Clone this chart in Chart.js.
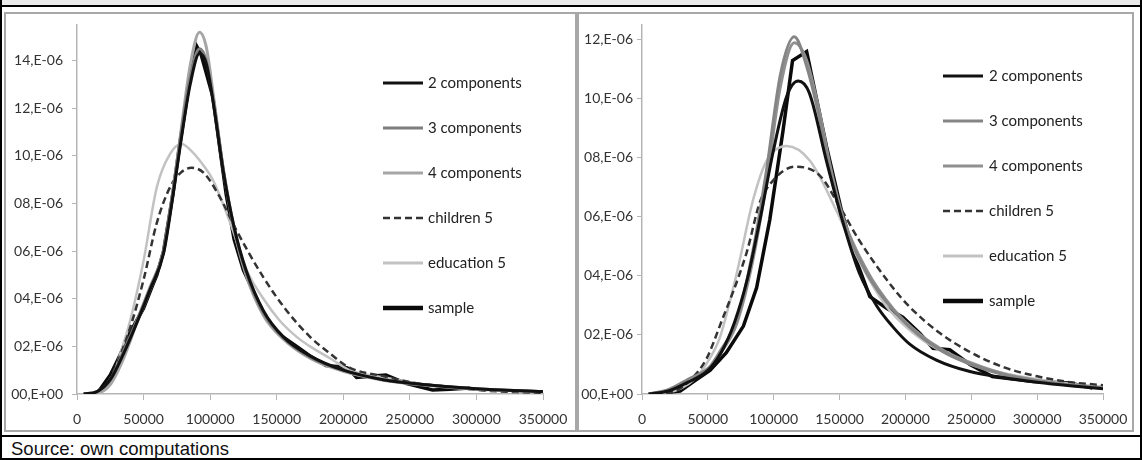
<!DOCTYPE html>
<html><head><meta charset="utf-8">
<script src="https://cdn.jsdelivr.net/npm/chart.js@4.4.1/dist/chart.umd.min.js"></script>
<style>
html,body{margin:0;padding:0;background:#fff;}
#wrap{position:relative;width:1142px;height:460px;overflow:hidden;background:#fff;}
.abs{position:absolute;}
#src{position:absolute;left:11px;top:438px;font-family:'Liberation Sans',Arial,sans-serif;font-size:18.5px;color:#111;line-height:22px;}
</style></head><body>
<div id="wrap">
  <div class="abs" style="left:0;top:0;width:1142px;height:5px;background:#ebebeb"></div>
  <div class="abs" style="left:0;top:5px;width:1142px;height:2px;background:#000"></div>
  <div class="abs" style="left:0;top:435px;width:1142px;height:2px;background:#000"></div>
  <div class="abs" style="left:0;top:458px;width:1142px;height:2px;background:#000"></div>
  <div class="abs" style="left:0;top:0;width:2px;height:460px;background:#000"></div>
  <div class="abs" style="left:1140px;top:0;width:2px;height:460px;background:#000"></div>
  <div class="abs" style="left:4px;top:12px;width:569px;height:416px;border:2px solid #a8a8a8"></div>
  <div class="abs" style="left:577px;top:12px;width:553px;height:416px;border:2px solid #a8a8a8"></div>
  <div class="abs" style="left:6px;top:14px;width:570px;height:417px"><canvas id="c1" width="570" height="417"></canvas></div>
  <div class="abs" style="left:579px;top:14px;width:554px;height:417px"><canvas id="c2" width="554" height="417"></canvas></div>
  <div id="src">Source: own computations</div>
</div>
<script>
// ---------- data (density values in units of 1E-06) ----------
const seriesLabels = ['2 components','3 components','4 components','children 5','education 5','sample'];
const xTickValues = [0,50000,100000,150000,200000,250000,300000,350000];

// Left panel
const L_x_comp = [5000,15000,25000,35000,45000,55000,65000,72000,78000,85000,92000,97000,103000,110000,118000,127000,140000,155000,175000,200000,230000,260000,300000,350000];
const L_comp2 = [0,0.1,0.6,1.7,3.0,4.4,5.9,8.3,10.6,13.0,14.3,13.9,12.0,9.3,7.0,5.2,3.5,2.4,1.6,1.0,0.6,0.4,0.22,0.1];
const L_comp3 = [0,0.1,0.6,1.8,3.1,4.5,6.0,8.5,10.9,13.3,14.5,14.0,12.1,9.4,7.0,5.1,3.4,2.35,1.55,1.0,0.6,0.4,0.22,0.1];
const L_comp4 = [0,0.05,0.4,1.5,3.0,4.4,6.0,8.5,11.0,13.8,15.2,14.6,12.3,9.4,6.9,5.0,3.3,2.3,1.5,0.95,0.58,0.38,0.2,0.1];
const L_x_child = [10000,20000,27000,40000,50000,60000,70000,78000,86000,95000,107000,120000,140000,157500,175000,190000,205000,230000,255000,280000,305000,330000,350000];
const L_child = [0,0.25,0.9,2.8,4.8,7.2,8.7,9.3,9.5,9.3,8.3,6.85,4.9,3.5,2.4,1.7,1.1,0.75,0.45,0.3,0.15,0.08,0.05];
const L_x_edu = [15000,22000,27000,32000,40000,50000,60000,70000,78600,86000,95000,102000,115000,127500,140000,152000,165000,175000,190000,205000,230000,255000,280000,310000,350000];
const L_edu = [0,0.2,0.7,1.6,3.1,5.6,8.7,10.1,10.5,10.2,9.6,9.0,7.2,5.2,4.0,3.1,2.4,2.0,1.5,1.0,0.7,0.45,0.3,0.2,0.1];
const L_x_sample = [17000,25000,32000,40000,50000,57000,60000,65000,72000,77000,85000,90000,93000,102000,112000,118000,125000,135000,142000,152000,165000,175000,187000,197000,203000,210000,232000,247000,267000,280000,295000];
const L_sample = [0.17,0.8,1.6,2.6,3.6,4.6,5.0,6.0,8.4,10.4,13.3,14.6,14.3,12.5,8.4,6.5,5.2,4.0,3.2,2.5,2.0,1.6,1.2,1.15,1.1,0.7,0.8,0.45,0.17,0.2,0.25];

// Right panel
const R_x_comp2 = [5000,20000,35000,50000,60000,70000,80000,90000,100000,110000,118600,127000,140000,152000,165000,178000,190000,203000,223500,249000,275000,300000,325000,350000];
const R_comp2 = [0,0.1,0.4,0.8,1.4,2.4,3.9,6.0,8.3,10.1,10.6,10.2,7.9,5.9,4.1,3.0,2.3,1.7,1.15,0.76,0.55,0.4,0.28,0.18];
const R_x_comp34 = [5000,20000,35000,51600,60000,72000,84000,94600,105000,115600,125000,135000,143000,152500,170500,190500,210000,230000,250000,275000,300000,325000,350000];
const R_comp3 = [0,0.15,0.5,0.93,1.5,2.5,4.8,7.6,10.8,12.1,11.1,9.3,7.5,5.9,4.1,2.85,2.0,1.4,1.0,0.65,0.45,0.3,0.2];
const R_comp4 = [0,0.12,0.45,0.9,1.4,2.4,4.5,7.2,10.4,11.9,11.3,9.5,7.7,6.0,4.2,2.9,2.05,1.45,1.05,0.68,0.46,0.31,0.2];
const R_x_child = [10000,25000,35000,49000,59000,79500,89500,97000,116000,135000,150000,165000,190500,203000,225000,250000,275000,300000,325000,350000];
const R_child = [0,0.1,0.4,1.2,2.3,4.8,6.5,7.1,7.7,7.4,6.35,5.2,3.6,2.96,2.1,1.4,0.9,0.6,0.4,0.3];
const R_x_edu = [10000,20000,30000,39000,50000,59000,72000,84500,94600,109800,127500,147700,165000,185000,205000,225000,250000,275000,300000,325000,350000];
const R_edu = [0,0.05,0.2,0.47,1.1,1.9,4.1,6.6,7.9,8.4,7.9,6.2,4.5,3.0,2.1,1.5,1.0,0.7,0.5,0.35,0.25];
const R_x_sample = [17500,29000,40000,51600,64000,77000,87000,97000,107000,114300,125000,140000,151500,162000,173000,186000,198000,211000,221000,233600,249000,266000,297000,325000,342000];
const R_sample = [0.05,0.1,0.45,0.8,1.4,2.3,3.6,5.9,8.9,11.3,11.6,8.4,6.2,4.6,3.3,2.9,2.6,2.05,1.55,1.5,1.0,0.59,0.42,0.37,0.2];

// ---------- helpers ----------
function pts(xs, ys){ return xs.map((x,i)=>({x:x, y:ys[i]})); }
function yLabel(v){ return v===0 ? '00,E+00' : String(v).padStart(2,'0') + ',E-06'; }

const sideLegend = {
  id:'sideLegend',
  afterDraw(chart, args, o){
    const ctx = chart.ctx;
    chart.data.datasets.forEach((ds,i)=>{
      const y = o.y0 + i*o.dy;
      ctx.save();
      ctx.strokeStyle = ds.borderColor;
      ctx.lineWidth = ds.legendWidth || ds.borderWidth;
      ctx.setLineDash(ds.borderDash || []);
      ctx.beginPath(); ctx.moveTo(o.x0, y); ctx.lineTo(o.x1, y); ctx.stroke();
      ctx.setLineDash([]);
      ctx.fillStyle = '#222';
      ctx.font = '15px Lato';
      ctx.textBaseline = 'middle';
      ctx.textAlign = 'left';
      ctx.fillText(ds.label, o.x1 + o.gap, y);
      ctx.restore();
    });
  }
};

function makeChart(id, series, cfg){
  const styles = [
    {c:'#111111', w:3,   lw:3},
    {c:cfg.c3,    w:3,   lw:3},
    {c:cfg.c4,    w:3,   lw:3},
    {c:'#333333', w:2.5, lw:2.5, dash:[7,4]},
    {c:'#c2c2c2', w:2.5, lw:3},
    {c:'#0a0a0a', w:3.5, lw:4.5, straight:true}
  ];
  const datasets = series.map((s,i)=>({
    label: seriesLabels[i],
    data: pts(s[0], s[1]),
    borderColor: styles[i].c,
    borderWidth: styles[i].w,
    legendWidth: styles[i].lw,
    borderDash: styles[i].dash || [],
    pointRadius: 0,
    fill: false,
    cubicInterpolationMode: styles[i].straight ? 'default' : 'monotone',
    tension: 0
  }));
  return new Chart(document.getElementById(id), {
    type:'line',
    data:{datasets},
    plugins:[sideLegend],
    options:{
      responsive:false, animation:false, devicePixelRatio:1,
      layout:{padding:{left:0, top:11, right:cfg.padRight, bottom:0}},
      plugins:{legend:{display:false}, tooltip:{enabled:false}, sideLegend:cfg.legend},
      scales:{
        x:{type:'linear', min:0, max:350000,
           afterBuildTicks(s){ s.ticks = xTickValues.map(v=>({value:v})); },
           afterFit(s){ s.height = 37; s.paddingLeft = 0; s.paddingRight = 0; },
           grid:{drawOnChartArea:false, drawTicks:true, tickLength:6, color:'#b5b5b5'},
           border:{display:true, color:'#b5b5b5', width:1.5},
           ticks:{padding:11, maxRotation:0, autoSkip:false, color:'#333', font:{family:'Lato', size:14},
                  callback:(v)=>String(v)}},
        y:{min:0, max:cfg.ymax,
           afterBuildTicks(s){ s.ticks = cfg.yTicks.map(v=>({value:v})); },
           afterFit(s){ s.width = cfg.yWidth; s.paddingTop = 0; s.paddingBottom = 0; },
           grid:{drawOnChartArea:false, drawTicks:true, tickLength:5, color:'#b5b5b5'},
           border:{display:true, color:'#b5b5b5', width:1.5},
           ticks:{padding:cfg.yPad, color:'#333', font:{family:'Lato', size:14}, callback:(v)=>yLabel(v)}}
      }
    }
  });
}

makeChart('c1', [[L_x_comp,L_comp2],[L_x_comp,L_comp3],[L_x_comp,L_comp4],[L_x_child,L_child],[L_x_edu,L_edu],[L_x_sample,L_sample]],
  {c3:'#7e7e7e', c4:'#a6a6a6', ymax:15.5, yTicks:[0,2,4,6,8,10,12,14], yWidth:71, yPad:9, padRight:33,
   legend:{x0:377, x1:417, gap:5, y0:69, dy:45}});
makeChart('c2', [[R_x_comp2,R_comp2],[R_x_comp34,R_comp3],[R_x_comp34,R_comp4],[R_x_child,R_child],[R_x_edu,R_edu],[R_x_sample,R_sample]],
  {c3:'#858585', c4:'#909090', ymax:12.5, yTicks:[0,2,4,6,8,10,12], yWidth:63, yPad:4, padRight:30,
   legend:{x0:364, x1:404, gap:6, y0:62, dy:45}});
</script>
</body></html>
